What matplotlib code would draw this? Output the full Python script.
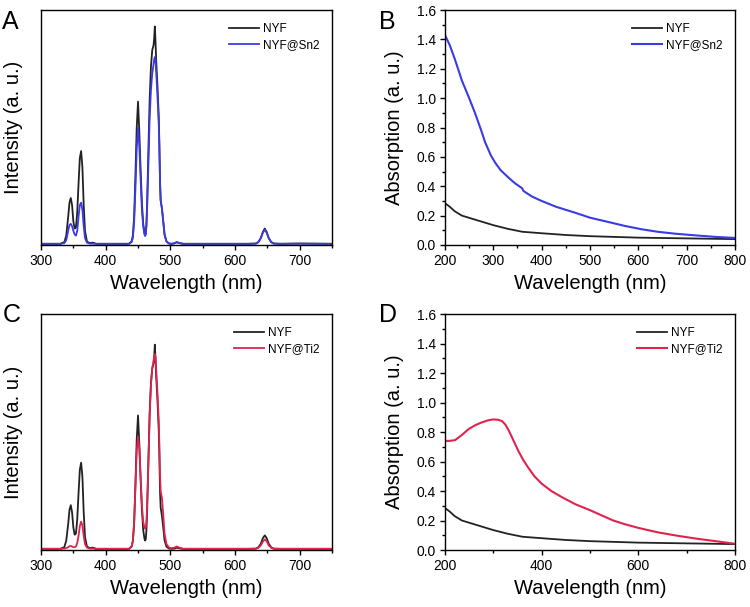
import matplotlib
matplotlib.use('Agg')
import matplotlib.pyplot as plt
from matplotlib.ticker import MultipleLocator, FormatStrFormatter

plt.rcParams['font.family'] = ['Liberation Sans', 'DejaVu Sans']

# emission spectra (A, C) - shared wavelength grid
em_wl = [300, 330, 336, 339, 342, 344, 346, 348, 350, 352, 354, 356, 358, 360, 362, 364, 366, 368,
         371, 375, 380, 385, 400, 430, 436, 440, 442, 444, 446, 448, 450, 452, 454, 456, 458, 460,
         461, 462, 463, 464, 466, 468, 470, 472, 474, 475, 476, 477, 478, 480, 482, 483, 484, 485,
         487, 489, 491, 494, 498, 502, 506, 510, 514, 520, 550, 620, 632, 636, 640, 643, 646, 649,
         652, 656, 660, 670, 700, 750]
em_nyf_a = [.005, .005, .012, .04, .12, .18, .20, .17, .10, .07, .075, .14, .26, .37, .40, .33, .17, .06,
            .015, .008, .01, .005, .005, .005, .005, .015, .04, .12, .30, .50, .61, .48, .32, .18, .09, .05,
            .042, .05, .09, .17, .40, .62, .76, .83, .85, .88, .93, .87, .79, .68, .55, .43, .27, .19,
            .155, .10, .045, .015, .006, .005, .007, .012, .008, .005, .005, .005, .006, .012, .03, .055, .07, .055,
            .03, .012, .006, .005, .006, .005]
em_sn2 = [.005, .005, .008, .02, .06, .085, .09, .08, .06, .045, .04, .06, .12, .17, .18, .15, .08, .03,
          .01, .006, .006, .005, .005, .005, .005, .012, .03, .10, .24, .41, .50, .42, .28, .15, .08, .045,
          .038, .045, .08, .15, .34, .54, .66, .73, .77, .79, .80, .79, .74, .64, .52, .42, .27, .19,
          .155, .10, .045, .015, .006, .005, .007, .012, .008, .005, .005, .005, .006, .012, .03, .052, .065, .052,
          .03, .012, .006, .005, .006, .005]
em_nyf_c = [.005, .005, .012, .04, .11, .17, .19, .16, .095, .065, .07, .13, .24, .34, .37, .31, .16, .055,
            .015, .008, .01, .005, .005, .005, .005, .014, .037, .11, .28, .47, .57, .45, .30, .17, .085, .047,
            .04, .047, .085, .16, .37, .58, .71, .77, .79, .82, .87, .81, .74, .64, .51, .40, .25, .18,
            .145, .095, .042, .014, .006, .005, .006, .01, .007, .005, .005, .005, .006, .011, .027, .05, .062, .05,
            .027, .011, .006, .005, .005, .005]
em_ti2 = [.005, .005, .006, .008, .012, .016, .017, .015, .012, .012, .015, .03, .06, .10, .12, .105, .06, .025,
          .01, .006, .006, .005, .005, .005, .005, .015, .04, .12, .27, .42, .48, .43, .31, .19, .12, .095,
          .09, .095, .12, .18, .37, .57, .70, .77, .80, .82, .83, .82, .77, .67, .55, .45, .32, .25,
          .22, .15, .07, .025, .01, .008, .01, .015, .01, .005, .005, .005, .005, .009, .02, .035, .045, .037,
          .02, .009, .005, .005, .005, .005]

# absorption spectra (B, D)
ab_nyf_wl = [200, 210, 220, 235, 250, 275, 300, 330, 360, 400, 450, 500, 600, 700, 800]
ab_nyf = [.285, .26, .23, .20, .185, .16, .135, .11, .09, .08, .068, .06, .05, .045, .04]
ab_sn2_wl = [200, 210, 220, 235, 250, 262, 275, 283, 295, 304, 315, 331, 345, 358, 360, 362, 366,
             380, 400, 430, 469, 500, 540, 572, 607, 640, 676, 720, 760, 800]
ab_sn2 = [1.43, 1.36, 1.27, 1.12, 1.0, .90, .78, .70, .61, .56, .51, .46, .42, .39, .385, .37, .36,
          .33, .30, .26, .22, .186, .155, .13, .107, .09, .077, .065, .055, .048]
ab_ti2_wl = [200, 210, 221, 235, 249, 262, 276, 290, 300, 310, 318, 325, 332, 342, 352, 362, 373,
             385, 400, 420, 441, 470, 500, 548, 572, 600, 640, 680, 700, 720, 760, 800]
ab_ti2 = [.74, .74, .745, .78, .82, .845, .865, .88, .885, .883, .874, .85, .81, .74, .67, .61, .555,
          .50, .45, .40, .36, .31, .27, .20, .175, .15, .12, .097, .087, .077, .06, .042]

BLUE = '#3b3be6'
RED = '#e0234e'
BLACK = '#222222'

fig = plt.figure(figsize=(7.5, 6.07), dpi=100)
axA = fig.add_axes([0.0547, 0.5964, 0.388, 0.387])
axB = fig.add_axes([0.5933, 0.5964, 0.3867, 0.387])
axC = fig.add_axes([0.0547, 0.0939, 0.388, 0.3888])
axD = fig.add_axes([0.5933, 0.0939, 0.3867, 0.3888])

# emission panels
for ax, y1, y2, c, lab in [(axA, em_nyf_a, em_sn2, BLUE, 'NYF@Sn2'),
                           (axC, em_nyf_c, em_ti2, RED, 'NYF@Ti2')]:
    ax.plot(em_wl, y1, color=BLACK, lw=1.3, label='NYF')
    ax.plot(em_wl, y2, color=c, lw=1.3, label=lab)
    ax.set_xlim(300, 750)
    ax.set_ylim(0, 1)
    ax.set_yticks([])
    ax.xaxis.set_major_locator(MultipleLocator(100))
    ax.xaxis.set_minor_locator(MultipleLocator(50))
    ax.set_ylabel('Intensity (a. u.)', fontsize=14.5, labelpad=13)

# absorption panels
for ax, wl2, y2, c, lab, step in [(axB, ab_sn2_wl, ab_sn2, BLUE, 'NYF@Sn2', 100),
                                  (axD, ab_ti2_wl, ab_ti2, RED, 'NYF@Ti2', 200)]:
    ax.plot(ab_nyf_wl, ab_nyf, color=BLACK, lw=1.3, label='NYF')
    ax.plot(wl2, y2, color=c, lw=1.5, label=lab)
    ax.set_xlim(200, 800)
    ax.set_ylim(0, 1.6)
    ax.xaxis.set_major_locator(MultipleLocator(step))
    ax.xaxis.set_minor_locator(MultipleLocator(step / 2))
    ax.yaxis.set_major_locator(MultipleLocator(0.2))
    ax.yaxis.set_minor_locator(MultipleLocator(0.1))
    ax.yaxis.set_major_formatter(FormatStrFormatter('%.1f'))
    ax.set_ylabel('Absorption (a. u.)', fontsize=14.5, labelpad=9)

for ax in [axA, axB, axC, axD]:
    ax.set_xlabel('Wavelength (nm)', fontsize=14.5, labelpad=4)
    ax.tick_params(which='both', direction='out', labelsize=10, width=1, pad=3)
    ax.tick_params(which='major', length=3.5)
    ax.tick_params(which='minor', length=2)
    for s in ax.spines.values():
        s.set_linewidth(1)
    ax.legend(loc='upper right', frameon=False, fontsize=8.5, handlelength=2.5,
              handletextpad=0.3, borderaxespad=0.7, labelspacing=0.35)

# panel letters
fig.text(0.003, 0.953, 'A', fontsize=18)
fig.text(0.505, 0.953, 'B', fontsize=18)
fig.text(0.003, 0.47, 'C', fontsize=18)
fig.text(0.505, 0.47, 'D', fontsize=18)

fig.savefig('out.png', dpi=100)
